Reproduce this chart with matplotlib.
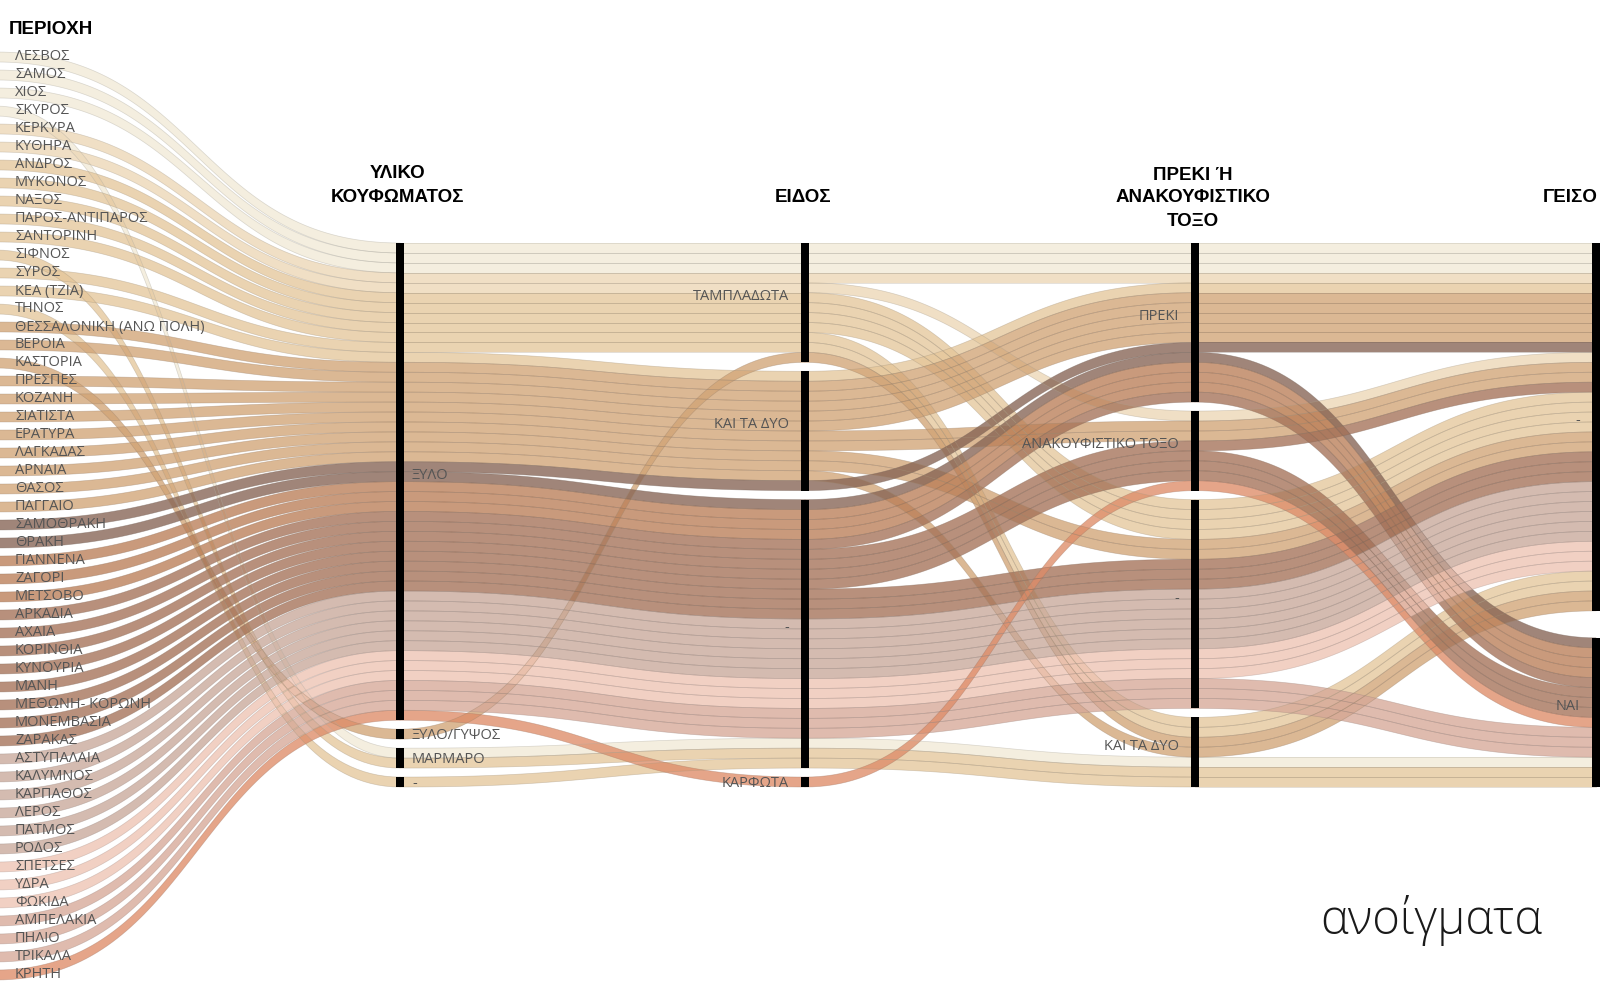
import numpy as np
import matplotlib.pyplot as plt
from matplotlib.patches import Polygon, Rectangle
from matplotlib import colors as mcolors

# ---- data -------------------------------------------------------------
regions = ["ΛΕΣΒΟΣ", "ΣΑΜΟΣ", "ΧΙΟΣ", "ΣΚΥΡΟΣ", "ΚΕΡΚΥΡΑ", "ΚΥΘΗΡΑ", "ΑΝΔΡΟΣ", "ΜΥΚΟΝΟΣ",
           "ΝΑΞΟΣ", "ΠΑΡΟΣ-ΑΝΤΙΠΑΡΟΣ", "ΣΑΝΤΟΡΙΝΗ", "ΣΙΦΝΟΣ", "ΣΥΡΟΣ", "ΚΕΑ (ΤΖΙΑ)", "ΤΗΝΟΣ",
           "ΘΕΣΣΑΛΟΝΙΚΗ (ΑΝΩ ΠΟΛΗ)", "ΒΕΡΟΙΑ", "ΚΑΣΤΟΡΙΑ", "ΠΡΕΣΠΕΣ", "ΚΟΖΑΝΗ", "ΣΙΑΤΙΣΤΑ",
           "ΕΡΑΤΥΡΑ", "ΛΑΓΚΑΔΑΣ", "ΑΡΝΑΙΑ", "ΘΑΣΟΣ", "ΠΑΓΓΑΙΟ", "ΣΑΜΟΘΡΑΚΗ", "ΘΡΑΚΗ",
           "ΓΙΑΝΝΕΝΑ", "ΖΑΓΟΡΙ", "ΜΕΤΣΟΒΟ", "ΑΡΚΑΔΙΑ", "ΑΧΑΙΑ", "ΚΟΡΙΝΘΙΑ", "ΚΥΝΟΥΡΙΑ", "ΜΑΝΗ",
           "ΜΕΘΩΝΗ- ΚΟΡΩΝΗ", "ΜΟΝΕΜΒΑΣΙΑ", "ΖΑΡΑΚΑΣ", "ΑΣΤΥΠΑΛΑΙΑ", "ΚΑΛΥΜΝΟΣ", "ΚΑΡΠΑΘΟΣ",
           "ΛΕΡΟΣ", "ΠΑΤΜΟΣ", "ΡΟΔΟΣ", "ΣΠΕΤΣΕΣ", "ΥΔΡΑ", "ΦΩΚΙΔΑ", "ΑΜΠΕΛΑΚΙΑ", "ΠΗΛΙΟ",
           "ΤΡΙΚΑΛΑ", "ΚΡΗΤΗ"]

# colour group of each region
region_group = ["cream", "cream", "cream", "cream", "ltan", "ltan",
                "tan", "tan", "tan", "tan", "tan", "tan", "tan", "tan", "tan",
                "mac", "mac", "mac", "mac", "mac", "mac", "mac", "mac", "mac", "mac", "mac",
                "thr", "thr", "epi", "epi", "epi",
                "pel", "pel", "pel", "pel", "pel", "pel", "pel", "pel",
                "dod", "dod", "dod", "dod", "dod", "dod",
                "pink", "pink", "pink", "dusty", "dusty", "dusty", "salmon"]

group_colors = {"cream": "#f5efdf", "ltan": "#f0dfc5", "tan": "#ebd3b1", "mac": "#dcb894",
                "thr": "#a08579", "epi": "#c99a7c", "pel": "#b8907c", "dod": "#d5bbb0",
                "pink": "#f2d0c4", "dusty": "#dfbbaf", "salmon": "#e5a589"}

material_cats = ["ΞΥΛΟ", "ΞΥΛΟ/ΓΥΨΟΣ", "ΜΑΡΜΑΡΟ", "-"]
material = ["ΞΥΛΟ", "ΞΥΛΟ", "ΞΥΛΟ", "ΜΑΡΜΑΡΟ", "ΞΥΛΟ", "ΞΥΛΟ", "ΞΥΛΟ", "ΞΥΛΟ",
            "ΞΥΛΟ", "ΞΥΛΟ", "ΞΥΛΟ", "ΜΑΡΜΑΡΟ", "ΞΥΛΟ", "ΞΥΛΟ", "-",
            "ΞΥΛΟ", "ΞΥΛΟ", "ΞΥΛΟ/ΓΥΨΟΣ", "ΞΥΛΟ", "ΞΥΛΟ", "ΞΥΛΟ",
            "ΞΥΛΟ", "ΞΥΛΟ", "ΞΥΛΟ", "ΞΥΛΟ", "ΞΥΛΟ", "ΞΥΛΟ", "ΞΥΛΟ",
            "ΞΥΛΟ", "ΞΥΛΟ", "ΞΥΛΟ", "ΞΥΛΟ", "ΞΥΛΟ", "ΞΥΛΟ", "ΞΥΛΟ", "ΞΥΛΟ",
            "ΞΥΛΟ", "ΞΥΛΟ", "ΞΥΛΟ", "ΞΥΛΟ", "ΞΥΛΟ", "ΞΥΛΟ",
            "ΞΥΛΟ", "ΞΥΛΟ", "ΞΥΛΟ", "ΞΥΛΟ", "ΞΥΛΟ", "ΞΥΛΟ", "ΞΥΛΟ", "ΞΥΛΟ",
            "ΞΥΛΟ", "ΞΥΛΟ"]

kind_cats = ["ΤΑΜΠΛΑΔΩΤΑ", "ΚΑΙ ΤΑ ΔΥΟ", "-", "ΚΑΡΦΩΤΑ"]
kind = ["ΤΑΜΠΛΑΔΩΤΑ", "ΤΑΜΠΛΑΔΩΤΑ", "ΤΑΜΠΛΑΔΩΤΑ", "-", "ΤΑΜΠΛΑΔΩΤΑ", "ΤΑΜΠΛΑΔΩΤΑ",
        "ΤΑΜΠΛΑΔΩΤΑ", "ΤΑΜΠΛΑΔΩΤΑ", "ΤΑΜΠΛΑΔΩΤΑ", "ΤΑΜΠΛΑΔΩΤΑ", "ΤΑΜΠΛΑΔΩΤΑ", "-",
        "ΤΑΜΠΛΑΔΩΤΑ", "ΚΑΙ ΤΑ ΔΥΟ", "-",
        "ΚΑΙ ΤΑ ΔΥΟ", "ΚΑΙ ΤΑ ΔΥΟ", "ΤΑΜΠΛΑΔΩΤΑ", "ΚΑΙ ΤΑ ΔΥΟ", "ΚΑΙ ΤΑ ΔΥΟ", "ΚΑΙ ΤΑ ΔΥΟ",
        "ΚΑΙ ΤΑ ΔΥΟ", "ΚΑΙ ΤΑ ΔΥΟ", "ΚΑΙ ΤΑ ΔΥΟ", "ΚΑΙ ΤΑ ΔΥΟ", "ΚΑΙ ΤΑ ΔΥΟ", "ΚΑΙ ΤΑ ΔΥΟ",
        "-", "-", "-", "-", "-", "-", "-", "-", "-", "-", "-",
        "-", "-", "-", "-", "-", "-", "-", "-", "-", "-", "-", "-", "-",
        "ΚΑΡΦΩΤΑ"]

lintel_cats = ["ΠΡΕΚΙ", "ΑΝΑΚΟΥΦΙΣΤΙΚΟ ΤΟΞΟ", "-", "ΚΑΙ ΤΑ ΔΥΟ"]
lintel = ["ΠΡΕΚΙ", "ΠΡΕΚΙ", "ΠΡΕΚΙ", "ΚΑΙ ΤΑ ΔΥΟ", "ΠΡΕΚΙ", "ΑΝΑΚΟΥΦΙΣΤΙΚΟ ΤΟΞΟ",
          "-", "-", "-", "-", "ΚΑΙ ΤΑ ΔΥΟ", "ΚΑΙ ΤΑ ΔΥΟ", "ΚΑΙ ΤΑ ΔΥΟ", "ΠΡΕΚΙ", "ΚΑΙ ΤΑ ΔΥΟ",
          "ΠΡΕΚΙ", "ΠΡΕΚΙ", "ΚΑΙ ΤΑ ΔΥΟ", "ΠΡΕΚΙ", "ΠΡΕΚΙ", "ΠΡΕΚΙ",
          "ΑΝΑΚΟΥΦΙΣΤΙΚΟ ΤΟΞΟ", "ΑΝΑΚΟΥΦΙΣΤΙΚΟ ΤΟΞΟ", "-", "-", "ΚΑΙ ΤΑ ΔΥΟ", "ΠΡΕΚΙ",
          "ΠΡΕΚΙ", "ΠΡΕΚΙ", "ΠΡΕΚΙ", "ΠΡΕΚΙ", "ΠΡΕΚΙ",
          "ΑΝΑΚΟΥΦΙΣΤΙΚΟ ΤΟΞΟ", "ΑΝΑΚΟΥΦΙΣΤΙΚΟ ΤΟΞΟ", "ΑΝΑΚΟΥΦΙΣΤΙΚΟ ΤΟΞΟ", "ΑΝΑΚΟΥΦΙΣΤΙΚΟ ΤΟΞΟ",
          "-", "-", "-", "-", "-", "-", "-", "-", "-", "-", "-", "-", "-", "-", "-",
          "ΑΝΑΚΟΥΦΙΣΤΙΚΟ ΤΟΞΟ"]

cornice_cats = ["-", "ΝΑΙ"]
cornice = ["-", "-", "-", "ΝΑΙ", "-", "-", "-", "-", "-", "-", "-", "ΝΑΙ", "-", "-", "ΝΑΙ",
           "-", "-", "-", "-", "-", "-", "-", "-", "-", "-", "-", "-",
           "ΝΑΙ", "ΝΑΙ", "ΝΑΙ", "ΝΑΙ", "ΝΑΙ", "-", "ΝΑΙ", "ΝΑΙ", "ΝΑΙ",
           "-", "-", "-", "-", "-", "-", "-", "-", "-", "-", "-", "-",
           "ΝΑΙ", "ΝΑΙ", "ΝΑΙ", "ΝΑΙ"]

dims = [
    (["ΥΛΙΚΟ", "ΚΟΥΦΩΜΑΤΟΣ"], material_cats, material),
    (["ΕΙΔΟΣ"], kind_cats, kind),
    (["ΠΡΕΚΙ Ή", "ΑΝΑΚΟΥΦΙΣΤΙΚΟ", "ΤΟΞΟ"], lintel_cats, lintel),
    (["ΓΕΙΣΟ"], cornice_cats, cornice),
]

# ---- layout -----------------------------------------------------------
axis_x = [400, 805, 1195, 1596]
title_y = [[174, 198], [198], [175, 198, 221], [198]]
top, bottom, gap_total = 243, 787, 27
n = len(regions)
unit = (bottom - top - gap_total) / n
region_y = 57 + 18 * np.arange(n)

ALPHA = 0.78


def under(hexc, a=ALPHA):
    rgb = np.array(mcolors.to_rgb(hexc))
    return tuple(np.clip((rgb - (1 - a)) / a, 0, 1))


fills = [under(group_colors[g]) for g in region_group]
edges = [tuple(np.array(mcolors.to_rgb(group_colors[g])) * 0.72) for g in region_group]

prev = region_y.astype(float)
positions = [region_y - unit / 2]
node_spans = []
for title, cats, vals in dims:
    gap = gap_total / (len(cats) - 1)
    pos = np.zeros(n)
    spans = []
    y = top
    for c in cats:
        members = sorted([i for i in range(n) if vals[i] == c], key=lambda i: prev[i])
        y0 = y
        for i in members:
            pos[i] = y
            y += unit
        spans.append((c, y0, y))
        y += gap
    node_spans.append(spans)
    positions.append(pos)
    prev = pos

xs_all = [-4] + axis_x

# ---- draw -------------------------------------------------------------
fig = plt.figure(figsize=(16, 10), dpi=100)
ax = fig.add_axes([0, 0, 1, 1])
ax.set_xlim(0, 1600)
ax.set_ylim(1000, 0)
ax.axis('off')

t = np.linspace(0, 1, 80)
for i in range(n):
    for k in range(len(xs_all) - 1):
        x0, x1 = xs_all[k], xs_all[k + 1]
        y0, y1 = positions[k][i], positions[k + 1][i]
        xm = (x0 + x1) / 2
        bx = (1 - t) ** 3 * x0 + 3 * (1 - t) ** 2 * t * xm + 3 * (1 - t) * t ** 2 * xm + t ** 3 * x1
        by = y0 + (y1 - y0) * (3 * t ** 2 - 2 * t ** 3)
        pts = np.vstack([np.column_stack([bx, by]), np.column_stack([bx[::-1], by[::-1] + unit])])
        ax.add_patch(Polygon(pts, closed=True, facecolor=fills[i], alpha=ALPHA,
                             edgecolor='none', zorder=2))
        ax.plot(bx, by, color=edges[i], lw=0.5, alpha=0.45, zorder=3)
        ax.plot(bx, by + unit, color=edges[i], lw=0.5, alpha=0.45, zorder=3)

label_font = ['Open Sans', 'DejaVu Sans']
title_font = ['Liberation Sans', 'DejaVu Sans']
label_color = '#555555'

for i, name in enumerate(regions):
    ax.text(15, region_y[i], name, fontsize=10.5, color=label_color, va='center', ha='left',
            family=label_font, zorder=5)
ax.text(9, 30, "ΠΕΡΙΟΧΗ", fontsize=13.5, fontweight='bold', color='black', va='center',
        ha='left', family=title_font, zorder=5)

for d, (title, cats, vals) in enumerate(dims):
    x = axis_x[d]
    for c, y0, y1 in node_spans[d]:
        ax.add_patch(Rectangle((x - 4, y0), 8, y1 - y0, facecolor='black', edgecolor='none', zorder=6))
        ny = (y0 + y1) / 2
        ly = ny - 6 if (y1 - y0) > 3 * unit else ny + 1
        if d == 0:
            ax.text(x + 12, ly, c, fontsize=10.5, color=label_color, va='center', ha='left',
                    family=label_font, zorder=7)
        else:
            ax.text(x - 16, ly, c, fontsize=10.5, color=label_color, va='center', ha='right',
                    family=label_font, zorder=7)
    for line, ty in zip(title, title_y[d]):
        if d == len(dims) - 1:
            ax.text(1598, ty, line, fontsize=13.5, fontweight='bold', color='black', va='center',
                    ha='right', family=title_font, zorder=7)
        else:
            ax.text(x - 2, ty, line, fontsize=13.5, fontweight='bold', color='black', va='center',
                    ha='center', family=title_font, zorder=7)

ax.text(1320, 920, "ανοίγματα", fontsize=34, color='#1a1a1a', va='center', ha='left',
        family=label_font, fontweight='light', zorder=7)

plt.savefig('out.png', dpi=100)
